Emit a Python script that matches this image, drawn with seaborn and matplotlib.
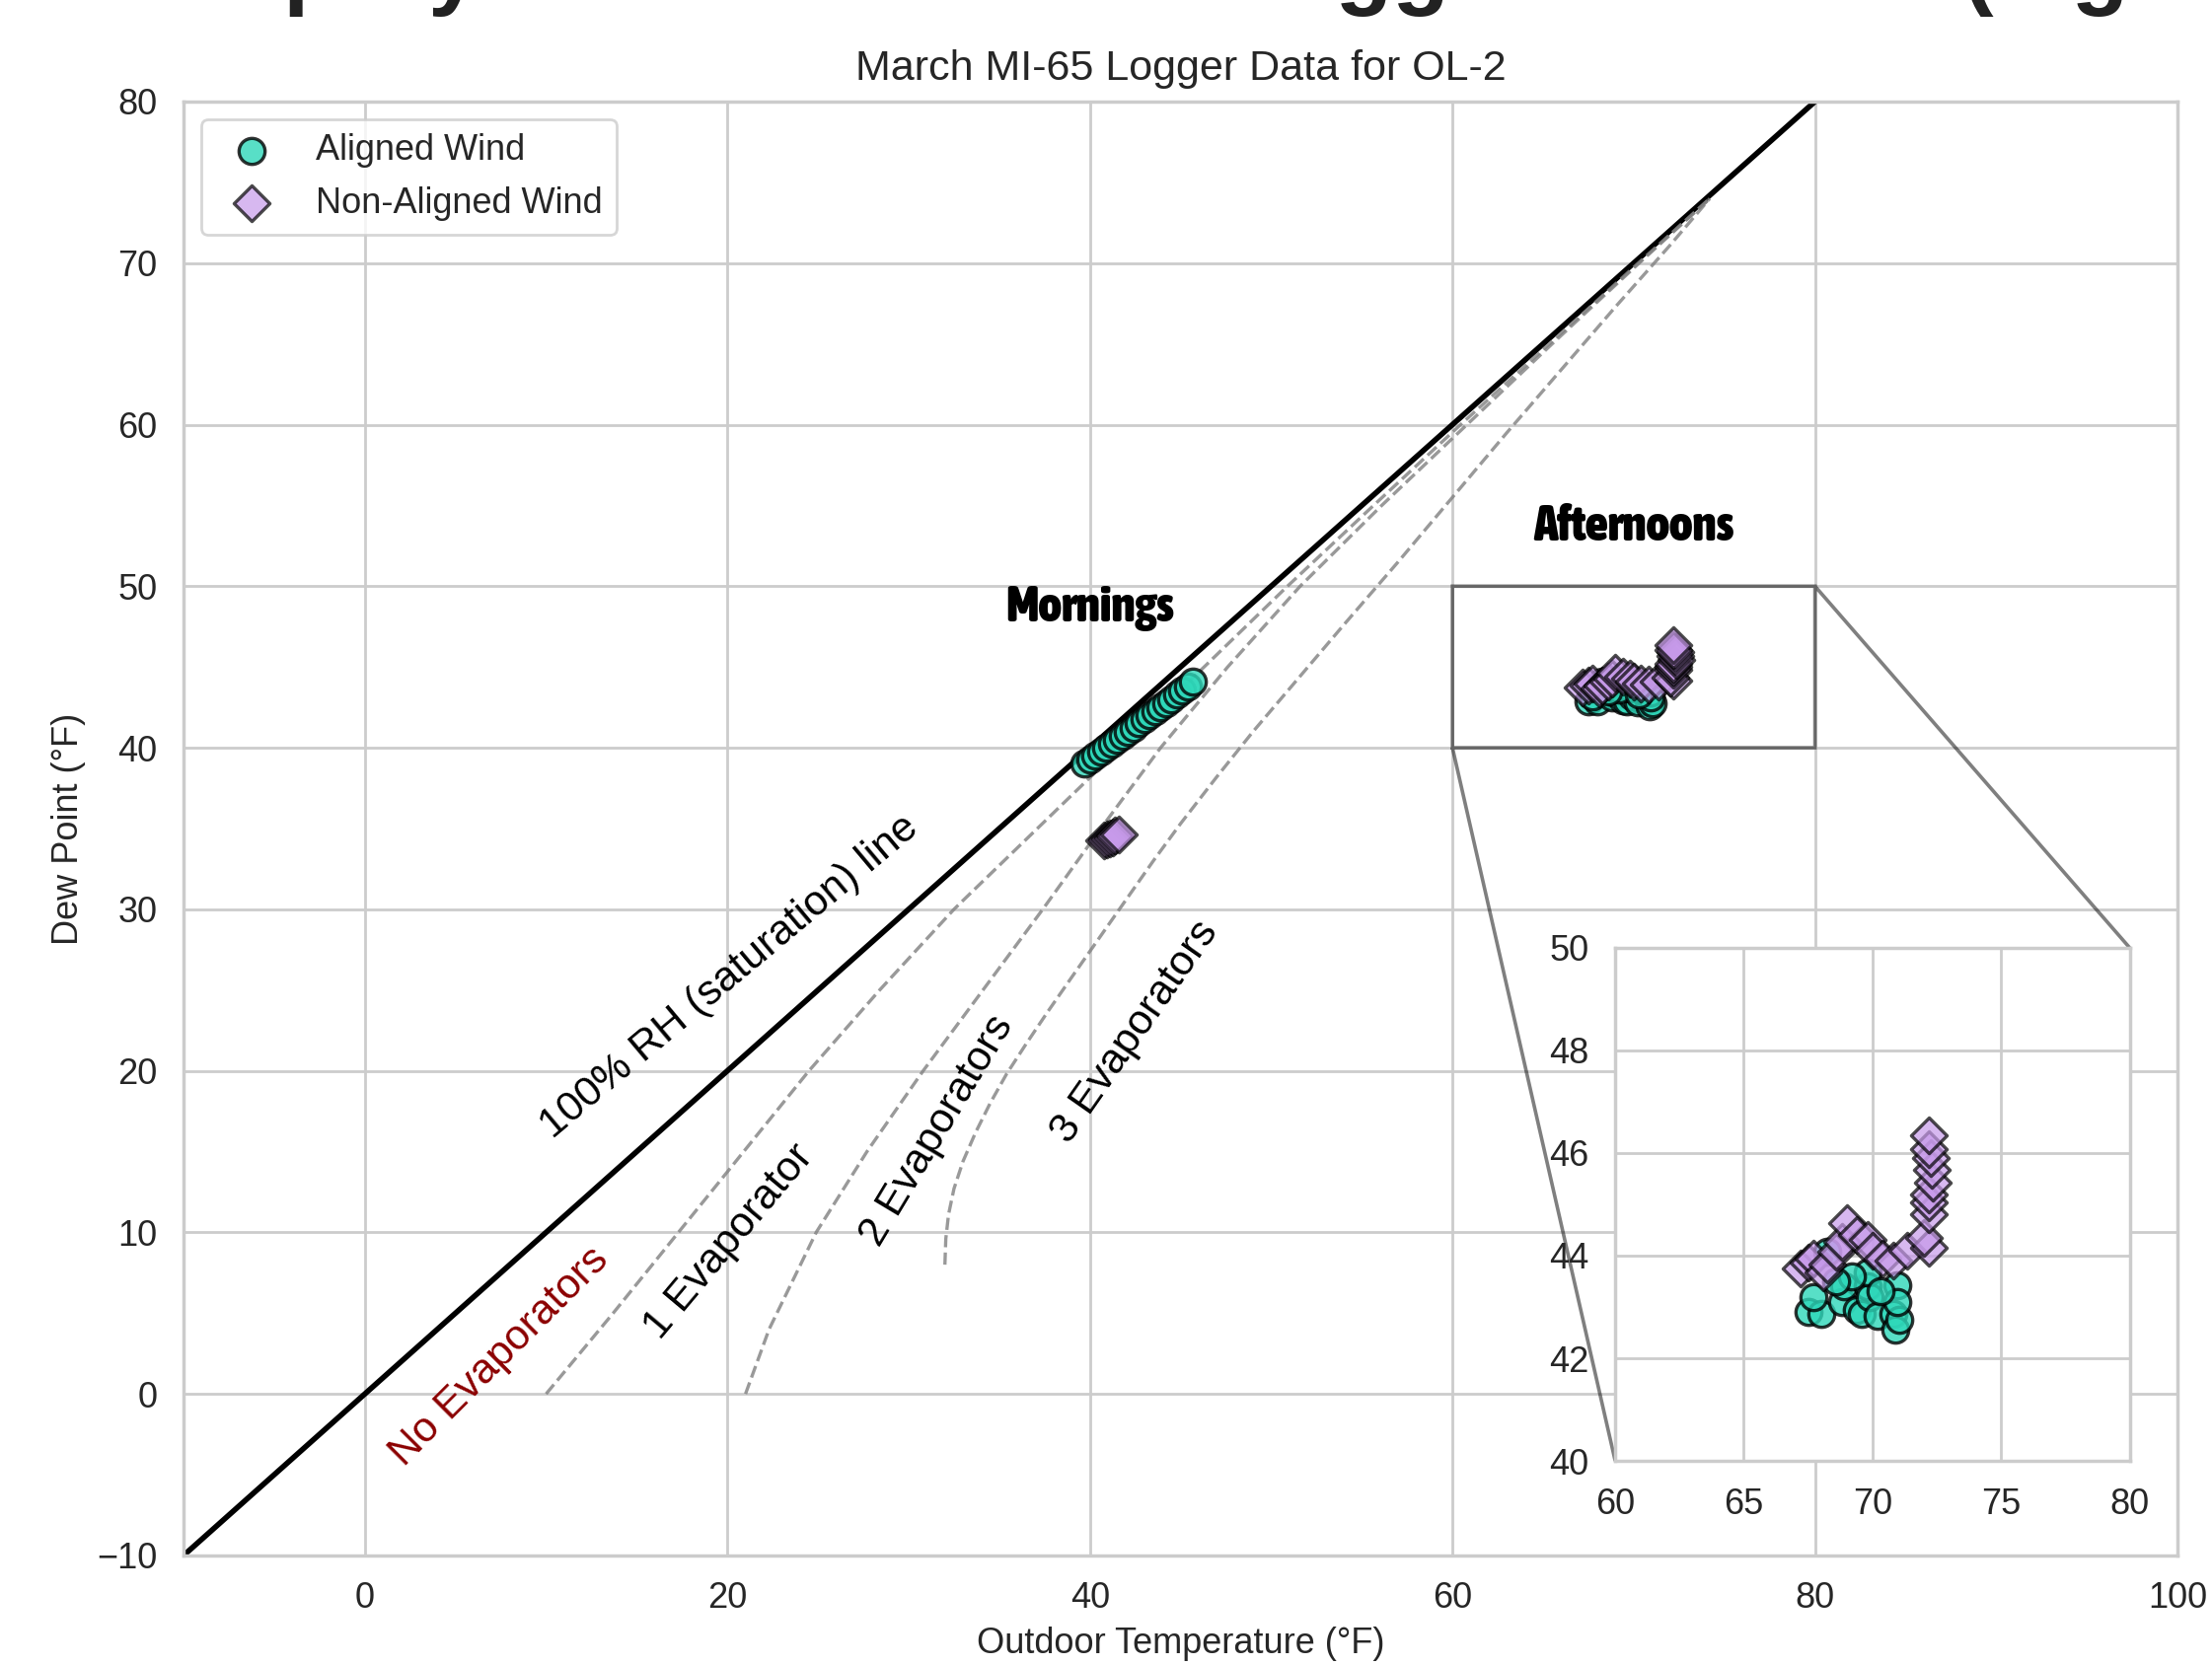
import numpy as np
import pandas as pd
import matplotlib
matplotlib.use("Agg")
import matplotlib.pyplot as plt
from matplotlib import font_manager as fm
import seaborn as sns

# ---------------- data ----------------
# Mornings
morning_aligned_x = [39.7, 40.0, 40.3, 40.6, 40.9, 41.2, 41.5, 41.8, 42.1, 42.4, 42.7,
                     43.0, 43.3, 43.6, 43.9, 44.2, 44.5, 44.8, 45.1, 45.4, 45.7]
morning_aligned_y = [39.0, 39.25, 39.5, 39.75, 40.0, 40.25, 40.5, 40.75, 41.0, 41.25, 41.5,
                     41.75, 42.0, 42.25, 42.5, 42.75, 43.0, 43.3, 43.55, 43.8, 44.1]
morning_nonaligned_x = [40.8, 40.95, 41.1, 41.25, 41.4, 41.6]
morning_nonaligned_y = [34.25, 34.3, 34.4, 34.45, 34.55, 34.6]

# Afternoons
afternoon_aligned_x = [67.5, 68.0, 67.7, 68.8, 68.9, 69.4, 69.6, 69.8, 69.9, 70.2,
                       70.8, 70.9, 71.05, 70.95, 70.95, 69.8, 68.25, 69.2, 68.6, 70.3]
afternoon_aligned_y = [42.9, 42.87, 43.2, 43.1, 43.4, 42.95, 42.87, 43.4, 43.2, 42.83,
                       42.87, 42.55, 42.75, 43.43, 43.1, 43.67, 44.07, 43.6, 43.5, 43.3]
afternoon_nonaligned_x = [67.2, 67.5, 67.7, 68.1, 68.25, 68.6, 68.8, 69.0, 69.4, 69.8,
                          70.0, 70.4, 70.8, 71.35, 72.2, 72.0, 72.2, 72.2, 72.2, 72.35,
                          72.3, 72.27, 72.2, 72.2]
afternoon_nonaligned_y = [43.75, 43.87, 43.95, 43.67, 43.83, 44.07, 44.27, 44.63, 44.4, 44.3,
                          44.1, 43.95, 43.9, 44.1, 44.15, 44.35, 44.8, 45.03, 45.2, 45.43,
                          45.67, 45.9, 46.07, 46.35]

# Saturation line (100% RH)
sat_x = [-10, 80]
sat_y = [-10, 80]

# Evaporator boundary curves
evap1_x = [10.0, 13.7, 17.3, 20.9, 24.5, 28.4, 32.5, 37.1, 41.7, 46.3, 50.9, 55.65,
           60.45, 65.35, 70.25, 74.2]
evap1_y = [0.0, 5.0, 10.0, 15.0, 20.0, 25.0, 30.0, 35.0, 40.0, 45.0, 50.0, 55.0,
           60.0, 65.0, 70.0, 74.0]
evap2_x = [21.0, 22.3, 24.9, 27.7, 30.8, 34.1, 37.4, 40.6, 43.9, 47.6, 51.6, 56.1,
           60.8, 65.5, 70.3, 74.2]
evap2_y = [0.0, 4.0, 10.0, 15.0, 20.0, 25.0, 30.0, 35.0, 40.0, 45.0, 50.0, 55.0,
           60.0, 65.0, 70.0, 74.0]
evap3_x = [32.0, 32.05, 32.2, 32.5, 33.0, 33.7, 34.5, 35.4, 36.5, 37.7, 39.0, 40.5,
           42.0, 43.5, 45.0, 47.0, 49.0, 51.5, 54.0, 57.0, 60.0, 63.0, 66.0, 69.0,
           72.0, 74.2]
evap3_y = [8.0, 9.6, 11.1, 12.7, 14.4, 16.2, 18.0, 19.8, 21.7, 23.7, 25.8, 28.2,
           30.6, 33.0, 35.3, 38.2, 41.0, 44.3, 47.6, 51.5, 55.5, 59.5, 63.4, 67.3,
           71.1, 74.0]

legend_labels = ["Aligned Wind", "Non-Aligned Wind"]
title_text = "March MI-65 Logger Data for OL-2"
suptitle_text = "Spray Model vs. MI-65 Logger Data Set (e.g. hourly)"

# ---------------- style ----------------
sns.set_theme(style="whitegrid")
plt.rcParams['font.family'] = ['Liberation Sans', 'DejaVu Sans']

# pick a heavy condensed face for the "Mornings"/"Afternoons" labels
_rank = {'ultra-condensed': 1, 'extra-condensed': 2, 'condensed': 3, 'semi-condensed': 4}
def _weight(w):
    if isinstance(w, (int, float)):
        return int(w)
    return {'normal': 400, 'regular': 400, 'book': 400, 'medium': 500, 'semibold': 600,
            'demibold': 600, 'bold': 700, 'extra bold': 800, 'heavy': 800,
            'black': 900}.get(str(w).lower(), 400)
best = None
for f in fm.fontManager.ttflist:
    st = str(f.stretch).lower()
    r = _rank.get(st)
    nm = f.name.lower()
    if r is None and ('condensed' in nm or 'narrow' in nm):
        r = 3
    if r is None:
        continue
    w = _weight(f.weight)
    if w < 700:
        continue
    if f.style != 'normal':
        continue
    score = abs(w - 850) + 60 * abs(r - 3)
    if best is None or score < best[0]:
        best = (score, f.fname)
if best is not None:
    heading_fp = fm.FontProperties(fname=best[1], size=18)
else:
    heading_fp = fm.FontProperties(family="Liberation Sans", weight="bold", size=15)

ALIGNED_C = "#2ED8BA"
NONALIGNED_C = "#C79AEA"

fig = plt.figure(figsize=(11.21, 8.44), dpi=200)
ax = fig.add_axes([0.083, 0.0658, 0.9014, 0.8732])

def draw_points(a, legend=True):
    sns.scatterplot(x=morning_aligned_x + afternoon_aligned_x,
                    y=morning_aligned_y + afternoon_aligned_y,
                    ax=a, marker="o", s=90, color=ALIGNED_C, edgecolor="black",
                    linewidth=1.2, alpha=0.8,
                    label=legend_labels[0] if legend else None, zorder=3)
    sns.scatterplot(x=morning_nonaligned_x + afternoon_nonaligned_x,
                    y=morning_nonaligned_y + afternoon_nonaligned_y,
                    ax=a, marker="D", s=85, color=NONALIGNED_C, edgecolor="black",
                    linewidth=1.2, alpha=0.7,
                    label=legend_labels[1] if legend else None, zorder=4)

# saturation and evaporator lines
sns.lineplot(x=sat_x, y=sat_y, ax=ax, color="black", lw=2, sort=False, zorder=2)
for ex, ey in [(evap1_x, evap1_y), (evap2_x, evap2_y), (evap3_x, evap3_y)]:
    sns.lineplot(x=ex, y=ey, ax=ax, color="gray", lw=1.2, ls="--", alpha=0.8,
                 sort=False, zorder=2)

draw_points(ax, legend=True)

ax.set_xlim(-10, 100)
ax.set_ylim(-10, 80)
ax.set_xticks([0, 20, 40, 60, 80, 100])
ax.set_yticks(list(range(-10, 81, 10)))
ax.tick_params(labelsize=13)
ax.set_xlabel("Outdoor Temperature (°F)", fontsize=13)
ax.set_ylabel("Dew Point (°F)", fontsize=13)
ax.set_title(title_text, fontsize=15.5, pad=8)

leg = ax.legend(loc="upper left", fontsize=13)

# annotations
ax.text(20.1, 25.8, "100% RH (saturation) line", rotation=40, fontsize=15.3,
        ha="center", va="center", color="black")
ax.text(7.4, 2.3, "No Evaporators", rotation=45, fontsize=15.3,
        ha="center", va="center", color="darkred")
ax.text(20.1, 9.4, "1 Evaporator", rotation=50, fontsize=15.3,
        ha="center", va="center", color="black")
ax.text(31.6, 16.3, "2 Evaporators", rotation=59, fontsize=15.3,
        ha="center", va="center", color="black")
ax.text(42.5, 22.4, "3 Evaporators", rotation=55, fontsize=15.3,
        ha="center", va="center", color="black")

ax.text(40.0, 48.7, "Mornings", fontproperties=heading_fp, color="black",
        ha="center", va="center")
ax.text(70.0, 53.7, "Afternoons", fontproperties=heading_fp, color="black",
        ha="center", va="center")

# inset
axins = ax.inset_axes([0.718, 0.065, 0.258, 0.353])
axins.set_facecolor("white")
draw_points(axins, legend=False)
axins.set_xlim(60, 80)
axins.set_ylim(40, 50)
axins.set_xticks([60, 65, 70, 75, 80])
axins.set_yticks([40, 42, 44, 46, 48, 50])
axins.tick_params(labelsize=13)
axins.set_xlabel("")
axins.set_ylabel("")
ind = ax.indicate_inset_zoom(axins, edgecolor="black", linewidth=1.3)
conns = ind.connectors
# lower-left and upper-right connectors only
conns[0].set_visible(True)
conns[1].set_visible(False)
conns[2].set_visible(False)
conns[3].set_visible(True)

# cut-off suptitle (only descenders remain inside the figure)
sup = fig.text(0.1, 1.0, suptitle_text, ha="left", va="baseline",
               fontsize=34, fontweight="bold", color="#222222")
fig.canvas.draw()
H = fig.bbox.height
bb = sup.get_window_extent()
visible = 17.0  # pixels of descender left inside the figure
sup.set_y(1.0 + ((H - visible) - bb.y0) / H)

fig.savefig("out.png", dpi=200)
